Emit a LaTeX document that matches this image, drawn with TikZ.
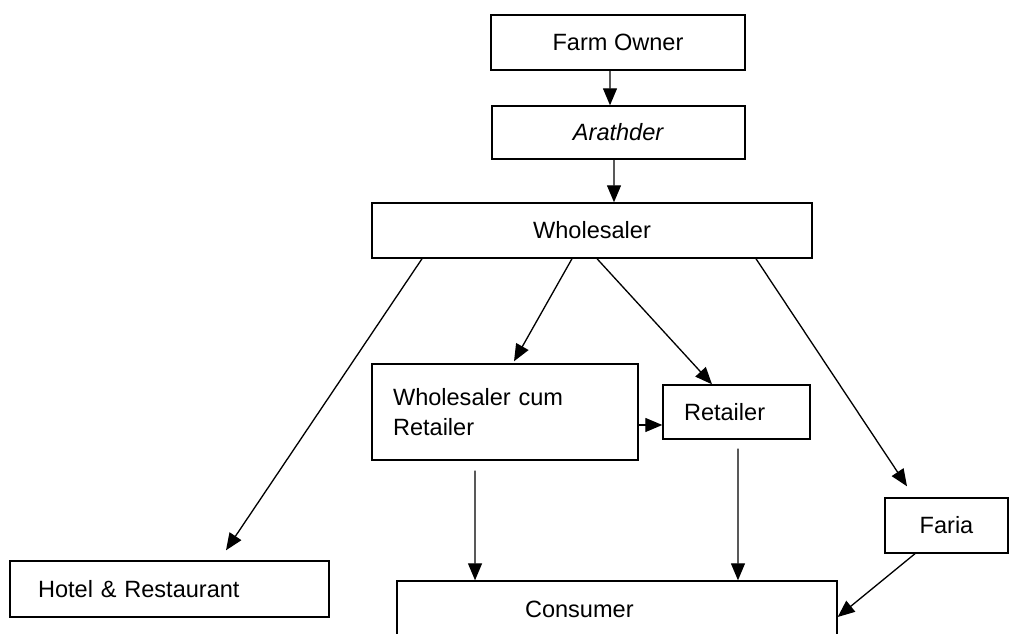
\documentclass[tikz,border=0pt]{standalone}
\usepackage{fontspec}
\setmainfont{Liberation Sans}
\usetikzlibrary{arrows.meta}

\begin{document}
\begin{tikzpicture}[
  x=0.02cm, y=-0.02cm,
  box/.style={rectangle, draw, line width=0.8pt, inner ysep=0pt, font=\fontsize{13.4}{17}\selectfont},
  arr/.style={-{Triangle[length=0.34cm,width=0.28cm]}, line width=0.75pt}
]
\useasboundingbox (0,0) rectangle (1021,634);

\node[box, minimum width=5.08cm, minimum height=1.1cm] (farm) at (618,42.5) {Farm Owner};
\node[box, minimum width=5.06cm, minimum height=1.06cm] (arath) at (618.5,132.5) {\textit{Arathder}};
\node[box, minimum width=8.8cm, minimum height=1.1cm] (whole) at (592,230.5) {Wholesaler};
\node[box, minimum height=1.92cm, inner xsep=0.42cm, text width=4.48cm, align=left] (wcr) at (505,412) {Wholesaler cum\\Retailer};
\node[box, minimum height=1.08cm, inner xsep=0.42cm, text width=2.1cm, align=left] (ret) at (736.5,412) {Retailer};
\node[box, minimum width=2.46cm, minimum height=1.1cm] (faria) at (946.5,525.5) {Faria};
\node[box, minimum height=1.12cm, inner xsep=0.56cm, text width=5.26cm, align=left] (hotel) at (169.5,589) {Hotel \& Restaurant};
\node[box, minimum height=1.12cm, inner xsep=2.56cm, text width=3.68cm, align=left] (cons) at (617,609) {Consumer};

\draw[arr] ([xshift=-0.16cm]farm.south) -- ([xshift=-0.17cm]arath.north);
\draw[arr] ([xshift=-0.09cm]arath.south) -- ([xshift=0.44cm]whole.north);
\draw[arr] ([xshift=-3.4cm]whole.south) -- ([xshift=1.13cm,yshift=0.2cm]hotel.north);
\draw[arr] ([xshift=-0.4cm]whole.south) -- ([xshift=0.18cm,yshift=0.04cm]wcr.north);
\draw[arr] ([xshift=0.1cm]whole.south) -- ([xshift=-0.49cm]ret.north);
\draw[arr] ([xshift=3.28cm]whole.south) -- ([xshift=-0.79cm,yshift=0.22cm]faria.north);
\draw[arr] ([yshift=-0.26cm]wcr.east) -- ([yshift=-0.26cm]ret.west);
\draw[arr] ([xshift=-0.6cm,yshift=-0.2cm]wcr.south) -- ([xshift=-2.84cm]cons.north);
\draw[arr] ([xshift=0.03cm,yshift=-0.18cm]ret.south) -- ([xshift=2.42cm]cons.north);
\draw[arr] ([xshift=-0.63cm]faria.south) -- ([yshift=-0.16cm]cons.east);
\end{tikzpicture}
\end{document}
